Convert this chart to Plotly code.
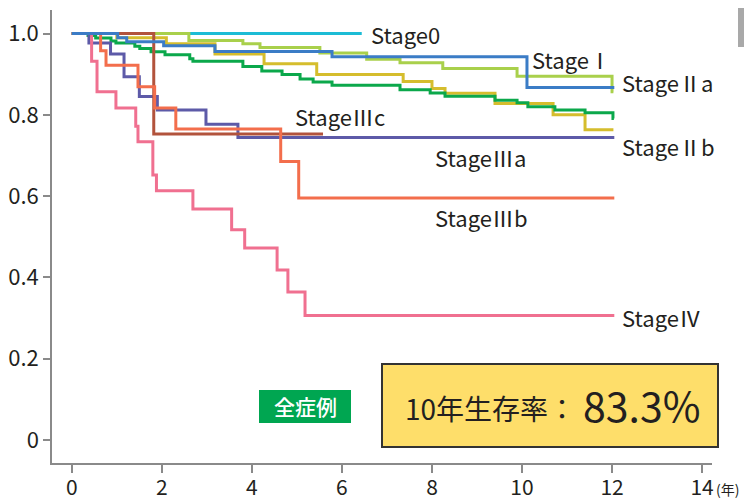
import plotly.graph_objects as go

# ---------------- data ----------------
stage0_t = [0, 6.44]
stage0_s = [1.0, 1.0]

stage1_t = [0, 1.02, 1.22, 2.04, 3.18, 5.78, 10.11, 12.05]
stage1_s = [1.0, 0.99, 0.98, 0.97, 0.956, 0.943, 0.867, 0.867]

stage2a_t = [0, 2.6, 3.8, 4.18, 5.51, 6.55, 7.29, 8.24, 9.89, 12.0, 12.03]
stage2a_s = [1.0, 0.983, 0.975, 0.966, 0.952, 0.937, 0.928, 0.914, 0.895, 0.857, 0.857]

stage2b_t = [0, 1.0, 2.1, 3.18, 4.27, 5.44, 7.36, 8.0, 8.29, 9.4, 10.69, 11.4, 12.03]
stage2b_s = [1.0, 0.99, 0.975, 0.95, 0.926, 0.899, 0.882, 0.865, 0.853, 0.828, 0.8, 0.763, 0.763]

all_t = [0, 0.36, 0.53, 0.87, 0.98, 1.4, 1.51, 1.76, 2.07, 2.62, 2.69, 3.8, 4.22, 4.67,
         5.07, 5.36, 5.78, 7.29, 7.96, 8.29, 9.4, 9.89, 10.13, 10.73, 11.4, 12.02, 12.04]
all_s = [1.0, 0.995, 0.989, 0.982, 0.977, 0.969, 0.963, 0.955, 0.948, 0.938, 0.932, 0.919, 0.908, 0.899,
         0.888, 0.881, 0.873, 0.862, 0.854, 0.846, 0.836, 0.83, 0.82, 0.812, 0.805, 0.791, 0.791]

stage3a_t = [0, 0.38, 0.86, 1.16, 1.5, 1.9, 2.98, 3.69, 12.05]
stage3a_s = [1.0, 0.977, 0.95, 0.894, 0.845, 0.812, 0.777, 0.744, 0.744]

stage3b_t = [0, 0.64, 0.76, 1.47, 1.84, 2.31, 4.64, 5.04, 12.05]
stage3b_s = [1.0, 0.958, 0.922, 0.869, 0.817, 0.765, 0.685, 0.595, 0.595]

stage3c_t = [0, 1.82, 5.58]
stage3c_s = [1.0, 0.753, 0.753]

stage4_t = [0, 0.44, 0.56, 0.98, 1.42, 1.47, 1.8, 1.88, 2.69, 3.55, 3.84, 4.56, 4.8, 5.18, 12.05]
stage4_s = [1.0, 0.932, 0.857, 0.817, 0.772, 0.734, 0.652, 0.613, 0.568, 0.517, 0.472, 0.418, 0.364, 0.306, 0.306]

x_ticks = [0, 2, 4, 6, 8, 10, 12, 14]
y_ticks = [0, 0.2, 0.4, 0.6, 0.8, 1.0]
y_tick_text = ["0", "0.2", "0.4", "0.6", "0.8", "1.0"]

labels = ["Stage0", "StageⅠ", "StageⅡa", "StageⅡb", "StageⅢa", "StageⅢb", "StageⅢc", "StageⅣ"]
label_x = [6.6, 10.18, 12.18, 12.18, 8.03, 8.03, 4.92, 12.18]
label_y = [0.999, 0.937, 0.881, 0.723, 0.696, 0.549, 0.797, 0.303]

rate_title = "10年生存率："
rate_value = "83.3%"
all_label = "全症例"
unit_label = "(年)"

# ---------------- figure ----------------
FONT = "Noto Sans CJK JP"
OFF = 8  # page body margin offset
W, H = 752, 500
L, T = 52 - OFF, 10 - OFF
R = W - (712 - OFF)
B = H - (463 - OFF)
PW, PH = W - L - R, H - T - B


def px(xp):
    return (xp - OFF - L) / PW


def py(yp):
    return (H - B - (yp - OFF)) / PH


series = [
    (stage0_t, stage0_s, "#1dbcd5"),
    (stage2a_t, stage2a_s, "#a9d04b"),
    (stage2b_t, stage2b_s, "#d5bd2d"),
    (all_t, all_s, "#0ba84b"),
    (stage3a_t, stage3a_s, "#5d5aa8"),
    (stage3c_t, stage3c_s, "#b2533c"),
    (stage3b_t, stage3b_s, "#f36e4c"),
    (stage4_t, stage4_s, "#f07090"),
    (stage1_t, stage1_s, "#3b7cc6"),
]

fig = go.Figure()
for t, s, c in series:
    fig.add_trace(go.Scatter(x=t, y=s, mode="lines", line=dict(color=c, width=3, shape="hv"),
                             hoverinfo="skip", showlegend=False))

for txt, lx, ly in zip(labels, label_x, label_y):
    fig.add_annotation(x=lx, y=ly, xref="x", yref="y", text=txt, showarrow=False,
                       xanchor="left", yanchor="middle",
                       font=dict(family=FONT, size=22, color="#231f20"))

# green "all cases" label box
fig.add_shape(type="rect", xref="paper", yref="paper", x0=px(259), x1=px(351), y0=py(423), y1=py(390),
              fillcolor="#00a651", line=dict(width=0), layer="above")
fig.add_annotation(x=px(305), y=py(406), xref="paper", yref="paper", text=all_label, showarrow=False,
                   xanchor="center", yanchor="middle",
                   font=dict(family=FONT, size=21, color="white", weight=500))

# yellow survival box
fig.add_shape(type="rect", xref="paper", yref="paper", x0=px(382), x1=px(718), y0=py(447), y1=py(364),
              fillcolor="#fede6a", line=dict(color="#333333", width=2), layer="above")
fig.add_annotation(x=px(403), y=py(408), xref="paper", yref="paper", text=rate_title, showarrow=False,
                   xanchor="left", yanchor="middle",
                   font=dict(family=FONT, size=28, color="#231f20"))
fig.add_annotation(x=px(581), y=py(404), xref="paper", yref="paper", text=rate_value, showarrow=False,
                   xanchor="left", yanchor="middle",
                   font=dict(family=FONT, size=41, color="#231f20"))

# unit label on x axis
fig.add_annotation(x=px(714), y=py(489), xref="paper", yref="paper", text=unit_label, showarrow=False,
                   xanchor="left", yanchor="middle",
                   font=dict(family=FONT, size=14, color="#231f20"))

# gray block at top-right corner
fig.add_shape(type="rect", xref="paper", yref="paper", x0=px(738), x1=px(770), y0=py(47), y1=py(-20),
              fillcolor="#a9a9a9", line=dict(width=0), layer="above")

axis_common = dict(showgrid=False, zeroline=False, showline=True, linecolor="#8a8a8a", linewidth=1.5,
                   ticks="outside", tickcolor="#8a8a8a", tickwidth=1.5, automargin=False,
                   fixedrange=True)

fig.update_xaxes(range=[-0.44, 14.22], tickvals=x_ticks, ticklen=8, ticklabelstandoff=-3,
                 tickfont=dict(family=FONT, size=21, color="#231f20"), **axis_common)
fig.update_yaxes(range=[-0.057, 1.058], tickvals=y_ticks, ticktext=y_tick_text, ticklen=7,
                 tickfont=dict(family=FONT, size=22, color="#231f20"), **axis_common)

fig.update_layout(width=W, height=H, margin=dict(l=L, r=R, t=T, b=B, pad=0, autoexpand=False),
                  plot_bgcolor="white", paper_bgcolor="white", hovermode=False,
                  font=dict(family=FONT))

fig.write_html("out.html", config={"displayModeBar": False})
